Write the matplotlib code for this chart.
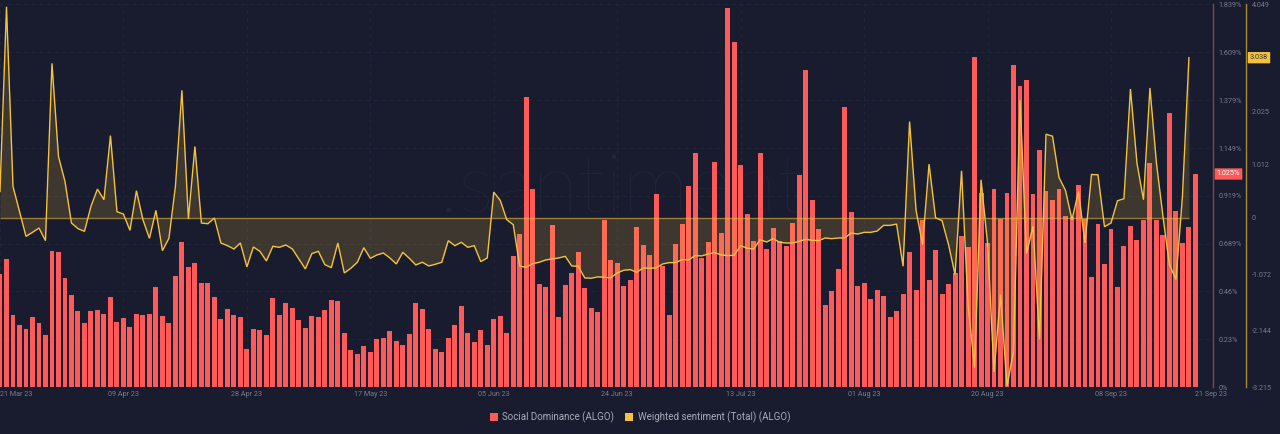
import pandas as pd
import matplotlib
matplotlib.use('Agg')
import matplotlib.pyplot as plt
from matplotlib.patches import Patch

plt.rcParams['font.family'] = ['Roboto', 'DejaVu Sans']

start_date = '2023-03-21'

# Social dominance in %, one bar per day
dominance = [
    .543, .615, .346, .300, .279, .336, .306, .250, .654, .649,
    .525, .444, .365, .306, .365, .370, .349, .431, .312, .330,
    .290, .349, .344, .349, .479, .340, .306, .532, .697, .575,
    .596, .498, .501, .432, .328, .375, .344, .335, .181, .279,
    .276, .250, .426, .344, .402, .381, .320, .285, .341, .338,
    .370, .418, .415, .261, .178, .159, .195, .168, .232, .234,
    .269, .223, .200, .255, .402, .373, .279, .181, .167, .237,
    .296, .391, .261, .215, .274, .203, .327, .341, .261, .628,
    .734, 1.392, .950, .495, .482, .778, .338, .490, .548, .650,
    .474, .381, .359, .803, .612, .596, .485, .513, .767, .682,
    .633, .927, .580, .348, .689, .783, .964, 1.123, .622, .695,
    1.084, .742, 1.820, 1.659, 1.065, .830, .700, 1.123, .662, .764,
    .702, .678, .790, 1.020, 1.525, .897, .758, .394, .460, .567,
    1.347, .843, .484, .501, .423, .468, .437, .335, .364, .447,
    .649, .468, .803, .514, .658, .447, .497, .548, .727, .674,
    1.587, .934, .694, .950, .807, .934, 1.546, 1.446, 1.478, .929,
    1.139, .940, .899, .950, .823, .815, .969, .807, .530, .785,
    .593, .758, .482, .679, .774, .706, .803, 1.075, .801, .732,
    1.317, .846, .690, .767, 1.025,
]

# Weighted sentiment, last day has no value yet
sentiment = [
    .499, 4.005, .594, .120, -.354, -.278, -.196, -.436, 2.931, 1.162,
    .689, -.101, -.208, -.259, .215, .543, .341, 1.560, .114, .069,
    -.240, .512, -.038, -.392, .139, -.625, -.392, .594, 2.419, -.025,
    1.352, -.101, -.114, -.006, -.480, -.531, -.594, -.480, -.935, -.556,
    -.638, -.821, -.543, -.562, -.518, -.594, -.783, -.973, -.682, -.638,
    -.891, -.948, -.480, -1.049, -.960, -.846, -.569, -.771, -.708, -.670,
    -.764, -.878, -.657, -.771, -.897, -.846, -.916, -.884, -.846, -.436,
    -.531, -.467, -.562, -.531, -.834, -.764, .486, .328, -.038, -.133,
    -.922, -.941, -.872, -.846, -.802, -.783, -.764, -.733, -.916, -.922,
    -1.143, -1.150, -1.124, -1.131, -1.143, -1.049, -.998, -.985, -1.036, -.954,
    -.960, -.954, -.878, -.853, -.853, -.796, -.802, -.720, -.726, -.689,
    -.663, -.708, -.720, -.714, -.531, -.581, -.594, -.417, -.461, -.398,
    -.467, -.480, -.480, -.449, -.411, -.430, -.436, -.385, -.398, -.385,
    -.385, -.291, -.310, -.278, -.278, -.253, -.145, -.145, -.120, -.922,
    1.826, .139, -.512, 1.017, 0, -.057, -.512, -1.080, .891, -1.649,
    -2.849, .720, -.480, -2.931, -1.459, -3.2, -2.533, 2.236, -.682, -.164,
    -2.312, 1.586, 1.548, .764, .518, -.038, .499, -.480, .821, .815,
    -.171, -.101, .322, .360, 2.445, 1.036, .341, 2.464, 1.036, .025,
    -.891, -1.175, .404, 3.038,
]

date_labels = ['21 Mar 23', '09 Apr 23', '28 Apr 23', '17 May 23', '05 Jun 23', '24 Jun 23',
               '13 Jul 23', '01 Aug 23', '20 Aug 23', '08 Sep 23', '21 Sep 23']
dominance_ticks = [0, .23, .46, .689, .919, 1.149, 1.379, 1.609, 1.839]
dominance_labels = ['0%', '0.23%', '0.46%', '0.689%', '0.919%', '1.149%', '1.379%', '1.609%', '1.839%']
sentiment_ticks = [-3.215, -2.144, -1.072, 0, 1.012, 2.025, 4.049]
sentiment_labels = ['-3.215', '-2.144', '-1.072', '0', '1.012', '2.025', '4.049']

BG = '#181c2e'
RED = '#ff5a5a'
YELLOW = '#f4c23f'
GREY = '#767c8e'
GRID = '#20263a'
TICK_SIZE = 5.2

dates = pd.date_range(start_date, periods=len(dominance))
tick_dates = pd.to_datetime(date_labels, format='%d %b %y')

fig = plt.figure(figsize=(12.8, 4.34), dpi=100, facecolor=BG)
ax = fig.add_axes([0, 1 - 387 / 434, 1213.3 / 1280, (387 - 4.5) / 434], facecolor=BG)

ax.bar(dates, dominance, width=0.76, color=RED, zorder=3)
ax.set_xlim(dates[0], dates[0] + pd.Timedelta(days=186.75))
ax.set_ylim(0, 1.839)
ax.grid(True, color=GRID, linewidth=0.7, linestyle=(0, (4, 4)), zorder=0)
ax.set_axisbelow(True)

ax.set_xticks(tick_dates[:-1])
ax.set_xticklabels(date_labels[:-1])
ax.tick_params(axis='x', length=0, pad=3.2, labelsize=TICK_SIZE, labelcolor=GREY)
ax.get_xticklabels()[0].set_ha('left')
ax.text(dates[-1], -3.2 / 72 * 100 / 382.5, date_labels[-1], fontsize=TICK_SIZE, color=GREY, ha='left', va='top',
        transform=ax.get_xaxis_transform())

for name in ['top', 'left', 'bottom']:
    ax.spines[name].set_visible(False)
ax.spines['right'].set_color('#8c4049')
ax.spines['right'].set_linewidth(1)

ax.text(631 / 1280, 1 - 212 / 434, '.santiment.', fontsize=60, color='#212638', ha='center',
        va='baseline', family='Lato', fontweight='light', transform=fig.transFigure, zorder=1)

# sentiment on its own axis, drawn over the bars
ax2 = ax.twinx()
ax2.patch.set_visible(False)
ax2.set_ylim(-3.215, 4.049)
ax2.fill_between(dates[:len(sentiment)], sentiment, 0, color=YELLOW, alpha=0.17, linewidth=0,
                 interpolate=True)
ax2.hlines(0, dates[0], dates[len(sentiment) - 1], color=YELLOW, alpha=0.55, linewidth=1)
ax2.plot(dates[:len(sentiment)], sentiment, color=YELLOW, linewidth=1, solid_joinstyle='miter')

ax2.set_yticks(sentiment_ticks)
ax2.set_yticklabels(sentiment_labels)
ax2.tick_params(axis='y', length=0, pad=4, labelsize=TICK_SIZE, labelcolor=GREY)
for name in ['top', 'left', 'bottom']:
    ax2.spines[name].set_visible(False)
ax2.spines['right'].set_position(('axes', 1246.3 / 1213.3))
ax2.spines['right'].set_color('#a58a3a')
ax2.spines['right'].set_linewidth(1)

# twinx moves the first axis labels to the left, put them back
ax.yaxis.tick_right()
ax.set_yticks(dominance_ticks)
ax.set_yticklabels(dominance_labels)
ax.tick_params(axis='y', length=0, pad=4, labelsize=TICK_SIZE, labelcolor=GREY)

# last value badges
ax2.text(1228.5 / 1280, 1 - 174 / 434, '1.025%', transform=fig.transFigure, fontsize=TICK_SIZE, color='white',
         ha='center', va='center', clip_on=False, zorder=5,
         bbox=dict(boxstyle='round,pad=0.3,rounding_size=0.1', facecolor=RED, edgecolor='none'))
ax2.text(1259 / 1280, 1 - 57.7 / 434, '3.038', transform=fig.transFigure, fontsize=TICK_SIZE, color='#3a3320',
         ha='center', va='center', clip_on=False, zorder=5,
         bbox=dict(boxstyle='round,pad=0.3,rounding_size=0.1', facecolor=YELLOW, edgecolor='none'))

handles = [Patch(facecolor=RED, label='Social Dominance (ALGO)'),
           Patch(facecolor=YELLOW, label='Weighted sentiment (Total) (ALGO)')]
fig.legend(handles=handles, loc='center', bbox_to_anchor=(640 / 1280, 1 - 417 / 434), ncol=2, frameon=False,
           fontsize=7.0, labelcolor='#a9adba', handlelength=0.85, handleheight=0.85, handletextpad=0.45,
           columnspacing=1.1)

fig.savefig('out.png', dpi=100, facecolor=BG)
